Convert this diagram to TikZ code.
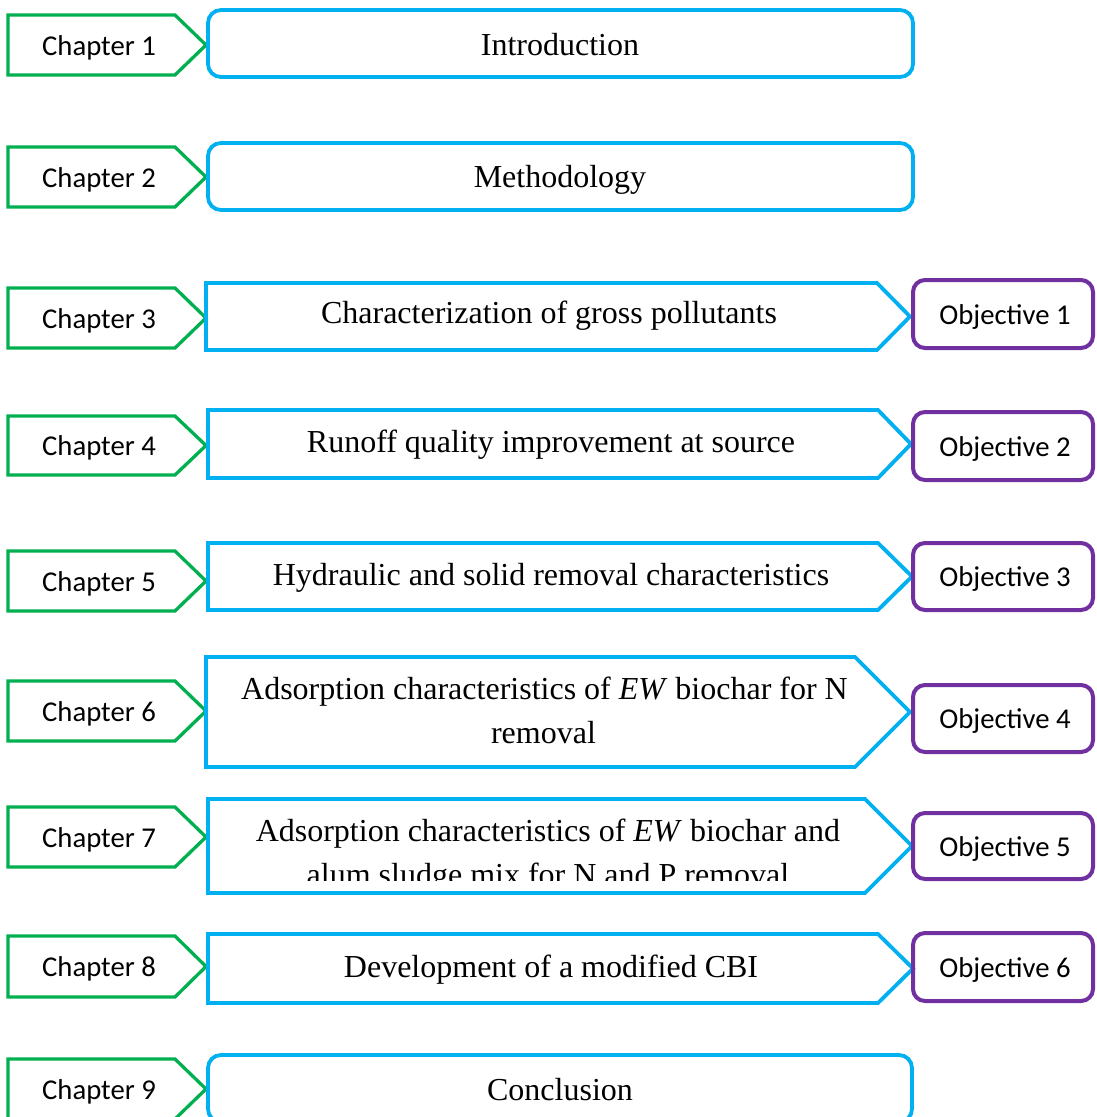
\documentclass[tikz,border=0pt]{standalone}
\usepackage{fontspec}
\setmainfont{Liberation Serif}
\newfontfamily\calib{Carlito}
\definecolor{chgreen}{RGB}{0,176,80}
\definecolor{tblue}{RGB}{0,176,240}
\definecolor{objpurple}{RGB}{112,48,160}
\newcommand\chapterarrow[4]{%
  \draw[chapline] (8,#2) -- (175,#2) -- (206,{(#2+#3)/2}) -- (175,#3) -- (8,#3) -- cycle;
  \node[chaptext] (#1) at (99,{(#2+#3)/2+10}) {Chapter #4};
}
\newcommand\topicarrow[6]{% left, flat, tip, top, bottom, name(unused)
  \draw[topicline] (#1,#4) -- (#2,#4) -- (#3,{(#4+#5)/2}) -- (#2,#5) -- (#1,#5) -- cycle;
}
\newcommand\objbox[4]{% name, top, bottom, number
  \draw[objline] (913,#2) rectangle (1093,#3);
  \node[chaptext] (#1) at (1005,{(#2+#3)/2+10}) {Objective #4};
}
\begin{document}
\begin{tikzpicture}[x=1pt,y=-1pt,
  chapline/.style={draw=chgreen,line width=3.3pt,line join=miter},
  topicline/.style={draw=tblue,line width=3.8pt,line join=miter},
  roundtopic/.style={draw=tblue,line width=3.8pt,rounded corners=13pt},
  objline/.style={draw=objpurple,line width=4pt,rounded corners=12pt},
  chaptext/.style={font=\calib\fontsize{28.7}{34}\selectfont,anchor=base,inner sep=0pt},
  topictext/.style={font=\fontsize{32}{44}\selectfont,anchor=base,inner sep=0pt}]
\useasboundingbox (0,0) rectangle (1096,1117);

% Row 1
\chapterarrow{ch1}{15}{75}{1}
\draw[roundtopic] (208,10) rectangle (913,77);
\node[topictext] (t1) at (560,55) {Introduction};

% Row 2
\chapterarrow{ch2}{147}{207}{2}
\draw[roundtopic] (208,143) rectangle (913,210);
\node[topictext] (t2) at (560,187) {Methodology};

% Row 3
\chapterarrow{ch3}{288}{348}{3}
\topicarrow{206}{877}{910}{283}{350}{p3}
\node[topictext] (t3) at (549,323) {Characterization of gross pollutants};
\objbox{ob1}{280}{348}{1}

% Row 4
\chapterarrow{ch4}{416}{475}{4}
\topicarrow{208}{878}{911}{410}{478}{p4}
\node[topictext] (t4) at (551,452) {Runoff quality improvement at source};
\objbox{ob2}{412}{480}{2}

% Row 5
\chapterarrow{ch5}{551}{611}{5}
\topicarrow{208}{878}{912}{543}{610}{p5}
\node[topictext] (t5) at (551,585) {Hydraulic and solid removal characteristics};
\objbox{ob3}{543}{610}{3}

% Row 6
\chapterarrow{ch6}{681}{741}{6}
\topicarrow{206}{855}{910}{657}{767}{p6}
\node[topictext] (t6a) at (544.5,699) {Adsorption characteristics of \textit{EW} biochar for N};
\node[topictext] (t6b) at (543.5,743) {removal};
\objbox{ob4}{685}{752}{4}

% Row 7
\chapterarrow{ch7}{807}{867}{7}
\topicarrow{208}{865}{912}{799}{893}{p7}
\node[topictext] (t7a) at (548,841) {Adsorption characteristics of \textit{EW} biochar and};
\begin{scope}
  \clip (210,850) rectangle (900,880);
  \node[topictext] (t7b) at (548,885) {alum sludge mix for N and P removal};
\end{scope}
\objbox{ob5}{813}{879}{5}

% Row 8
\chapterarrow{ch8}{936}{997}{8}
\topicarrow{208}{878}{913}{934}{1003}{p8}
\node[topictext] (t8) at (551,977) {Development of a modified CBI};
\objbox{ob6}{933}{1001}{6}

% Row 9
\chapterarrow{ch9}{1059}{1119}{9}
\draw[roundtopic] (208,1055) rectangle (912,1122);
\node[topictext] (t9) at (560,1100) {Conclusion};
\end{tikzpicture}
\end{document}
